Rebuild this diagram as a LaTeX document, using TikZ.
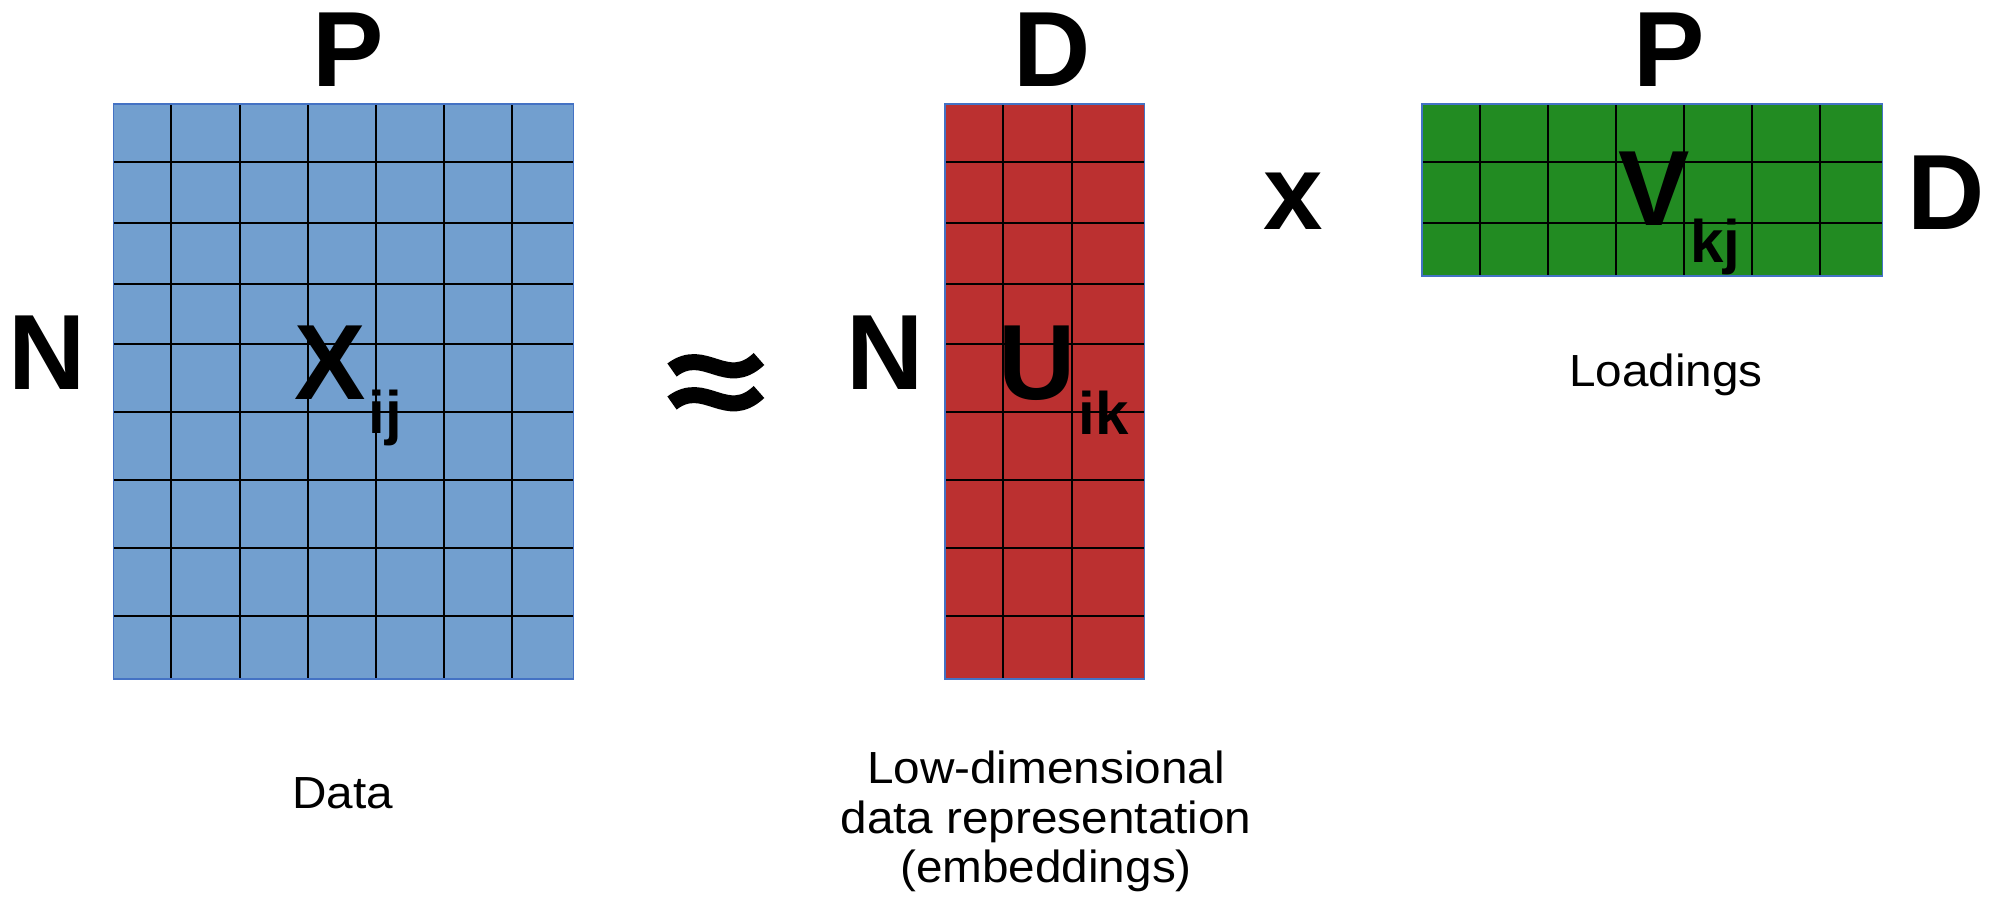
\documentclass[tikz,border=0pt]{standalone}
\usepackage{fontspec}
\setmainfont{Liberation Sans}
\definecolor{mblue}{RGB}{114,159,207}
\definecolor{mred}{RGB}{187,48,48}
\definecolor{mgreen}{RGB}{34,139,34}
\definecolor{medge}{RGB}{68,114,196}
\newcommand{\widetext}[1]{\scalebox{1.06}[1]{#1}}
\begin{document}
\begin{tikzpicture}[x=1pt,y=-1pt,
  gridline/.style={black,line width=2pt},
  outline/.style={medge,line width=1.6pt},
  big/.style={font=\fontsize{107}{107}\selectfont\bfseries,inner sep=0pt,anchor=base},
  subs/.style={font=\fontsize{60}{60}\selectfont\bfseries,inner sep=0pt,anchor=base},
  caption/.style={font=\fontsize{45}{50}\selectfont,inner sep=0pt,anchor=base},
  wave/.style={black,line width=16pt}]
\useasboundingbox (0,0) rectangle (1992,906);
% ---------- blue data matrix ----------
\fill[mblue] (113.3,104) rectangle (573.3,679);
\foreach \x in {171.3,239.7,307.7,375.7,444,512.3}
  \draw[gridline] (\x,104) -- (\x,679);
\foreach \y in {162,222.8,284,343.7,412.2,480,548,616.2}
  \draw[gridline] (113.3,\y) -- (573.3,\y);
\draw[outline] (113.3,104) rectangle (573.3,679);
% ---------- red embedding matrix ----------
\fill[mred] (945,104) rectangle (1144.3,679);
\foreach \x in {1003.3,1071.7}
  \draw[gridline] (\x,104) -- (\x,679);
\foreach \y in {162,222.8,284,343.7,412.2,480,548,616.2}
  \draw[gridline] (945,\y) -- (1144.3,\y);
\draw[outline] (945,104) rectangle (1144.3,679);
% ---------- green loading matrix ----------
\fill[mgreen] (1421.7,104) rectangle (1882.3,275.7);
\foreach \x in {1480,1547.7,1616,1684,1752.3,1820}
  \draw[gridline] (\x,104) -- (\x,275.7);
\foreach \y in {162.3,223.3}
  \draw[gridline] (1421.7,\y) -- (1882.3,\y);
\draw[outline] (1421.7,104) rectangle (1882.3,275.7);
% ---------- dimension letters ----------
\node[big] (pX) at (348,86) {P};
\node[big] (nX) at (47,389) {N};
\node[big] (dU) at (1052,86) {D};
\node[big] (nU) at (885.5,389) {N};
\node[big] (pV) at (1669,86) {P};
\node[big] (dV) at (1946,229) {D};
\node[big] (times) at (1293.5,229) {x};
% ---------- matrix symbols ----------
\node[big] (X) at (330,399) {X};
\node[subs] (Xs) at (385,433) {ij};
\node[big] (U) at (1037,399) {U};
\node[subs] (Us) at (1103.5,434) {ik};
\node[big] (V) at (1654,225) {V};
\node[subs] (Vs) at (1715.5,262) {kj};
% ---------- approx sign ----------
\draw[wave] (672,370) .. controls (705,345) and (726,390) .. (759,359);
\draw[wave] (672,403) .. controls (705,378) and (726,423) .. (759,392);
% ---------- captions ----------
\node[caption] (data) at (342.5,808) {\widetext{Data}};
\node[caption] (low1) at (1046,783) {\widetext{Low-dimensional}};
\node[caption] (low2) at (1046,833) {\widetext{data representation}};
\node[caption] (low3) at (1046,882) {\widetext{(embeddings)}};
\node[caption] (load) at (1666,386) {\widetext{Loadings}};
\end{tikzpicture}
\end{document}
